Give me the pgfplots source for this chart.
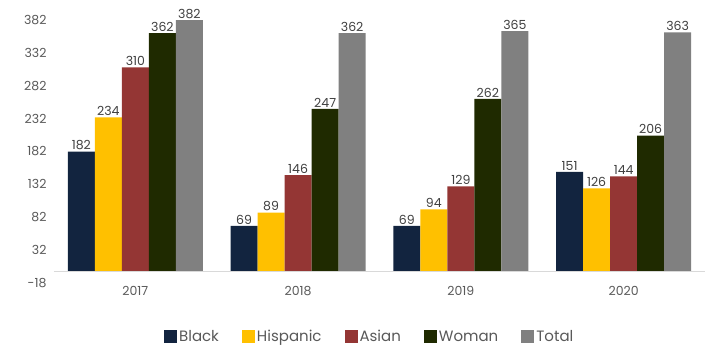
\documentclass[border=0pt]{standalone}
\usepackage{fontspec}
\setmainfont{Poppins}
\usepackage{pgfplots}
\pgfplotsset{compat=1.18}
\definecolor{cBlack}{HTML}{12243F}
\definecolor{cHisp}{HTML}{FFC000}
\definecolor{cAsian}{HTML}{943634}
\definecolor{cWoman}{HTML}{1F2A00}
\definecolor{cTotal}{HTML}{808080}
\definecolor{tickgray}{HTML}{595959}
\definecolor{valgray}{HTML}{404040}
\begin{document}
\begin{tikzpicture}[x=1pt,y=1pt]
\path[use as bounding box] (0,0) rectangle (720,364);
\begin{axis}[
  at={(54pt,81pt)}, anchor=south west,
  scale only axis, width=651pt, height=263pt,
  xmin=-0.5, xmax=3.5, ymin=-18, ymax=382,
  ytick={-18,32,82,132,182,232,282,332,382},
  xtick={0,1,2,3}, xticklabels={2017,2018,2019,2020},
  axis line style={draw=none},
  major tick length=0pt,
  tick style={draw=none},
  ticklabel style={font=\fontsize{12.5}{13}\selectfont, text=tickgray},
  yticklabel style={xshift=-4pt},
  /pgf/number format/assume math mode=true,
  ybar=0pt, bar width=0.166,
  nodes near coords,
  nodes near coords style={font=\fontsize{12.5}{13}\selectfont, text=valgray, inner sep=1.5pt},
  legend columns=5,
  legend style={draw=none, at={(0.485,-0.205)}, anchor=center,
    font=\fontsize{15}{16}\selectfont, text=tickgray,
    /tikz/every even column/.append style={column sep=21pt}},
  legend image code/.code={\fill[#1, draw=none] (0pt,-6.5pt) rectangle (13pt,6.5pt);},
]
\addplot[fill=cBlack, draw=none] coordinates {(0,182) (1,69) (2,69) (3,151)};
\addplot[fill=cHisp, draw=none] coordinates {(0,234) (1,89) (2,94) (3,126)};
\addplot[fill=cAsian, draw=none] coordinates {(0,310) (1,146) (2,129) (3,144)};
\addplot[fill=cWoman, draw=none] coordinates {(0,362) (1,247) (2,262) (3,206)};
\addplot[fill=cTotal, draw=none] coordinates {(0,382) (1,362) (2,365) (3,363)};
\legend{Black,Hispanic,Asian,Woman,Total}
\draw[color=black!15, line width=1.2pt] (axis cs:-0.5,0) -- (axis cs:3.5,0);
\end{axis}
\end{tikzpicture}
\end{document}
